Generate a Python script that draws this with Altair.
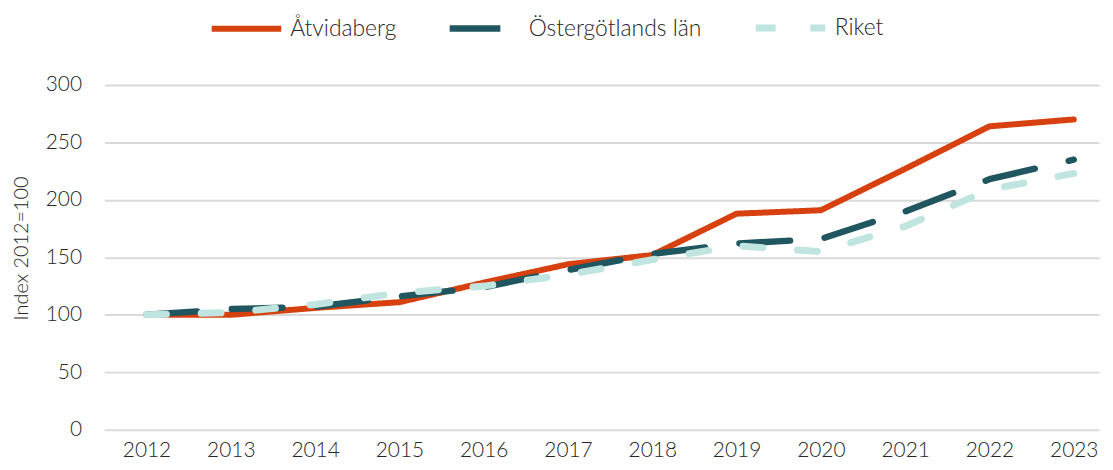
import altair as alt
import pandas as pd

years = [2012, 2013, 2014, 2015, 2016, 2017, 2018, 2019, 2020, 2021, 2022, 2023]
series = ["Åtvidaberg", "Östergötlands län", "Riket"]
atvidaberg = [100, 100, 106, 111, 128, 144, 152, 188, 191, 227, 264, 270]
ostergotland = [100, 105, 107, 116, 124, 139, 153, 162, 166, 190, 218, 235]
riket = [100, 102, 109, 119, 125, 135, 148, 160, 155, 177, 209, 223]
y_ticks = [0, 50, 100, 150, 200, 250, 300]

colors = ["#D7400F", "#1F565F", "#C0E4DF"]
dashes = [[1, 0], [51, 35], [20, 35]]
widths = [6, 7, 6.5]

rows = []
for name, vals in zip(series, [atvidaberg, ostergotland, riket]):
    for yr, v in zip(years, vals):
        rows.append({"year": yr, "value": v, "serie": name})
df = pd.DataFrame(rows)

FONT = "Lato"
TXT = "#262626"

legend_opts = dict(title=None, orient="none", legendX=105, legendY=-96,
                   direction="horizontal", symbolType="stroke",
                   symbolSize=4900, symbolStrokeWidth=7,
                   labelFontSize=23, labelFont=FONT, labelFontWeight=300,
                   labelColor=TXT, columnPadding=40, labelOffset=6, labelLimit=400)

chart = alt.Chart(df).mark_line(strokeCap="round", strokeJoin="round").encode(
    x=alt.X("year:Q",
            scale=alt.Scale(domain=[2011.5, 2023.3], nice=False, zero=False),
            axis=alt.Axis(values=years, format="d", grid=False, ticks=False, domain=False,
                          labelFontSize=21, labelFont=FONT, labelFontWeight=300,
                          labelColor=TXT, labelPadding=10, title=None, labelFlush=False)),
    y=alt.Y("value:Q",
            scale=alt.Scale(domain=[0, 300], nice=False),
            axis=alt.Axis(values=y_ticks, grid=True, gridColor="#D9D9D9", gridWidth=2,
                          ticks=False, domain=False, labelFontSize=21, labelFont=FONT,
                          labelFontWeight=300, labelColor=TXT, labelPadding=23,
                          title="Index 2012=100", titleFont=FONT, titleFontSize=20,
                          titleFontWeight=300, titleColor=TXT, titlePadding=14,
                          titleY=164)),
    color=alt.Color("serie:N", scale=alt.Scale(domain=series, range=colors),
                    legend=alt.Legend(**legend_opts)),
    strokeDash=alt.StrokeDash("serie:N", scale=alt.Scale(domain=series, range=dashes),
                              legend=alt.Legend(**legend_opts)),
    strokeWidth=alt.StrokeWidth("serie:N", scale=alt.Scale(domain=series, range=widths), legend=None),
).properties(
    width=1001,
    height=347,
    padding={"left": 97, "top": 76, "right": 6, "bottom": 31},
    autosize=alt.AutoSizeParams(type="none"),
).configure_view(stroke=None)

chart.save("out.html", embed_options={"renderer": "svg", "actions": False})
